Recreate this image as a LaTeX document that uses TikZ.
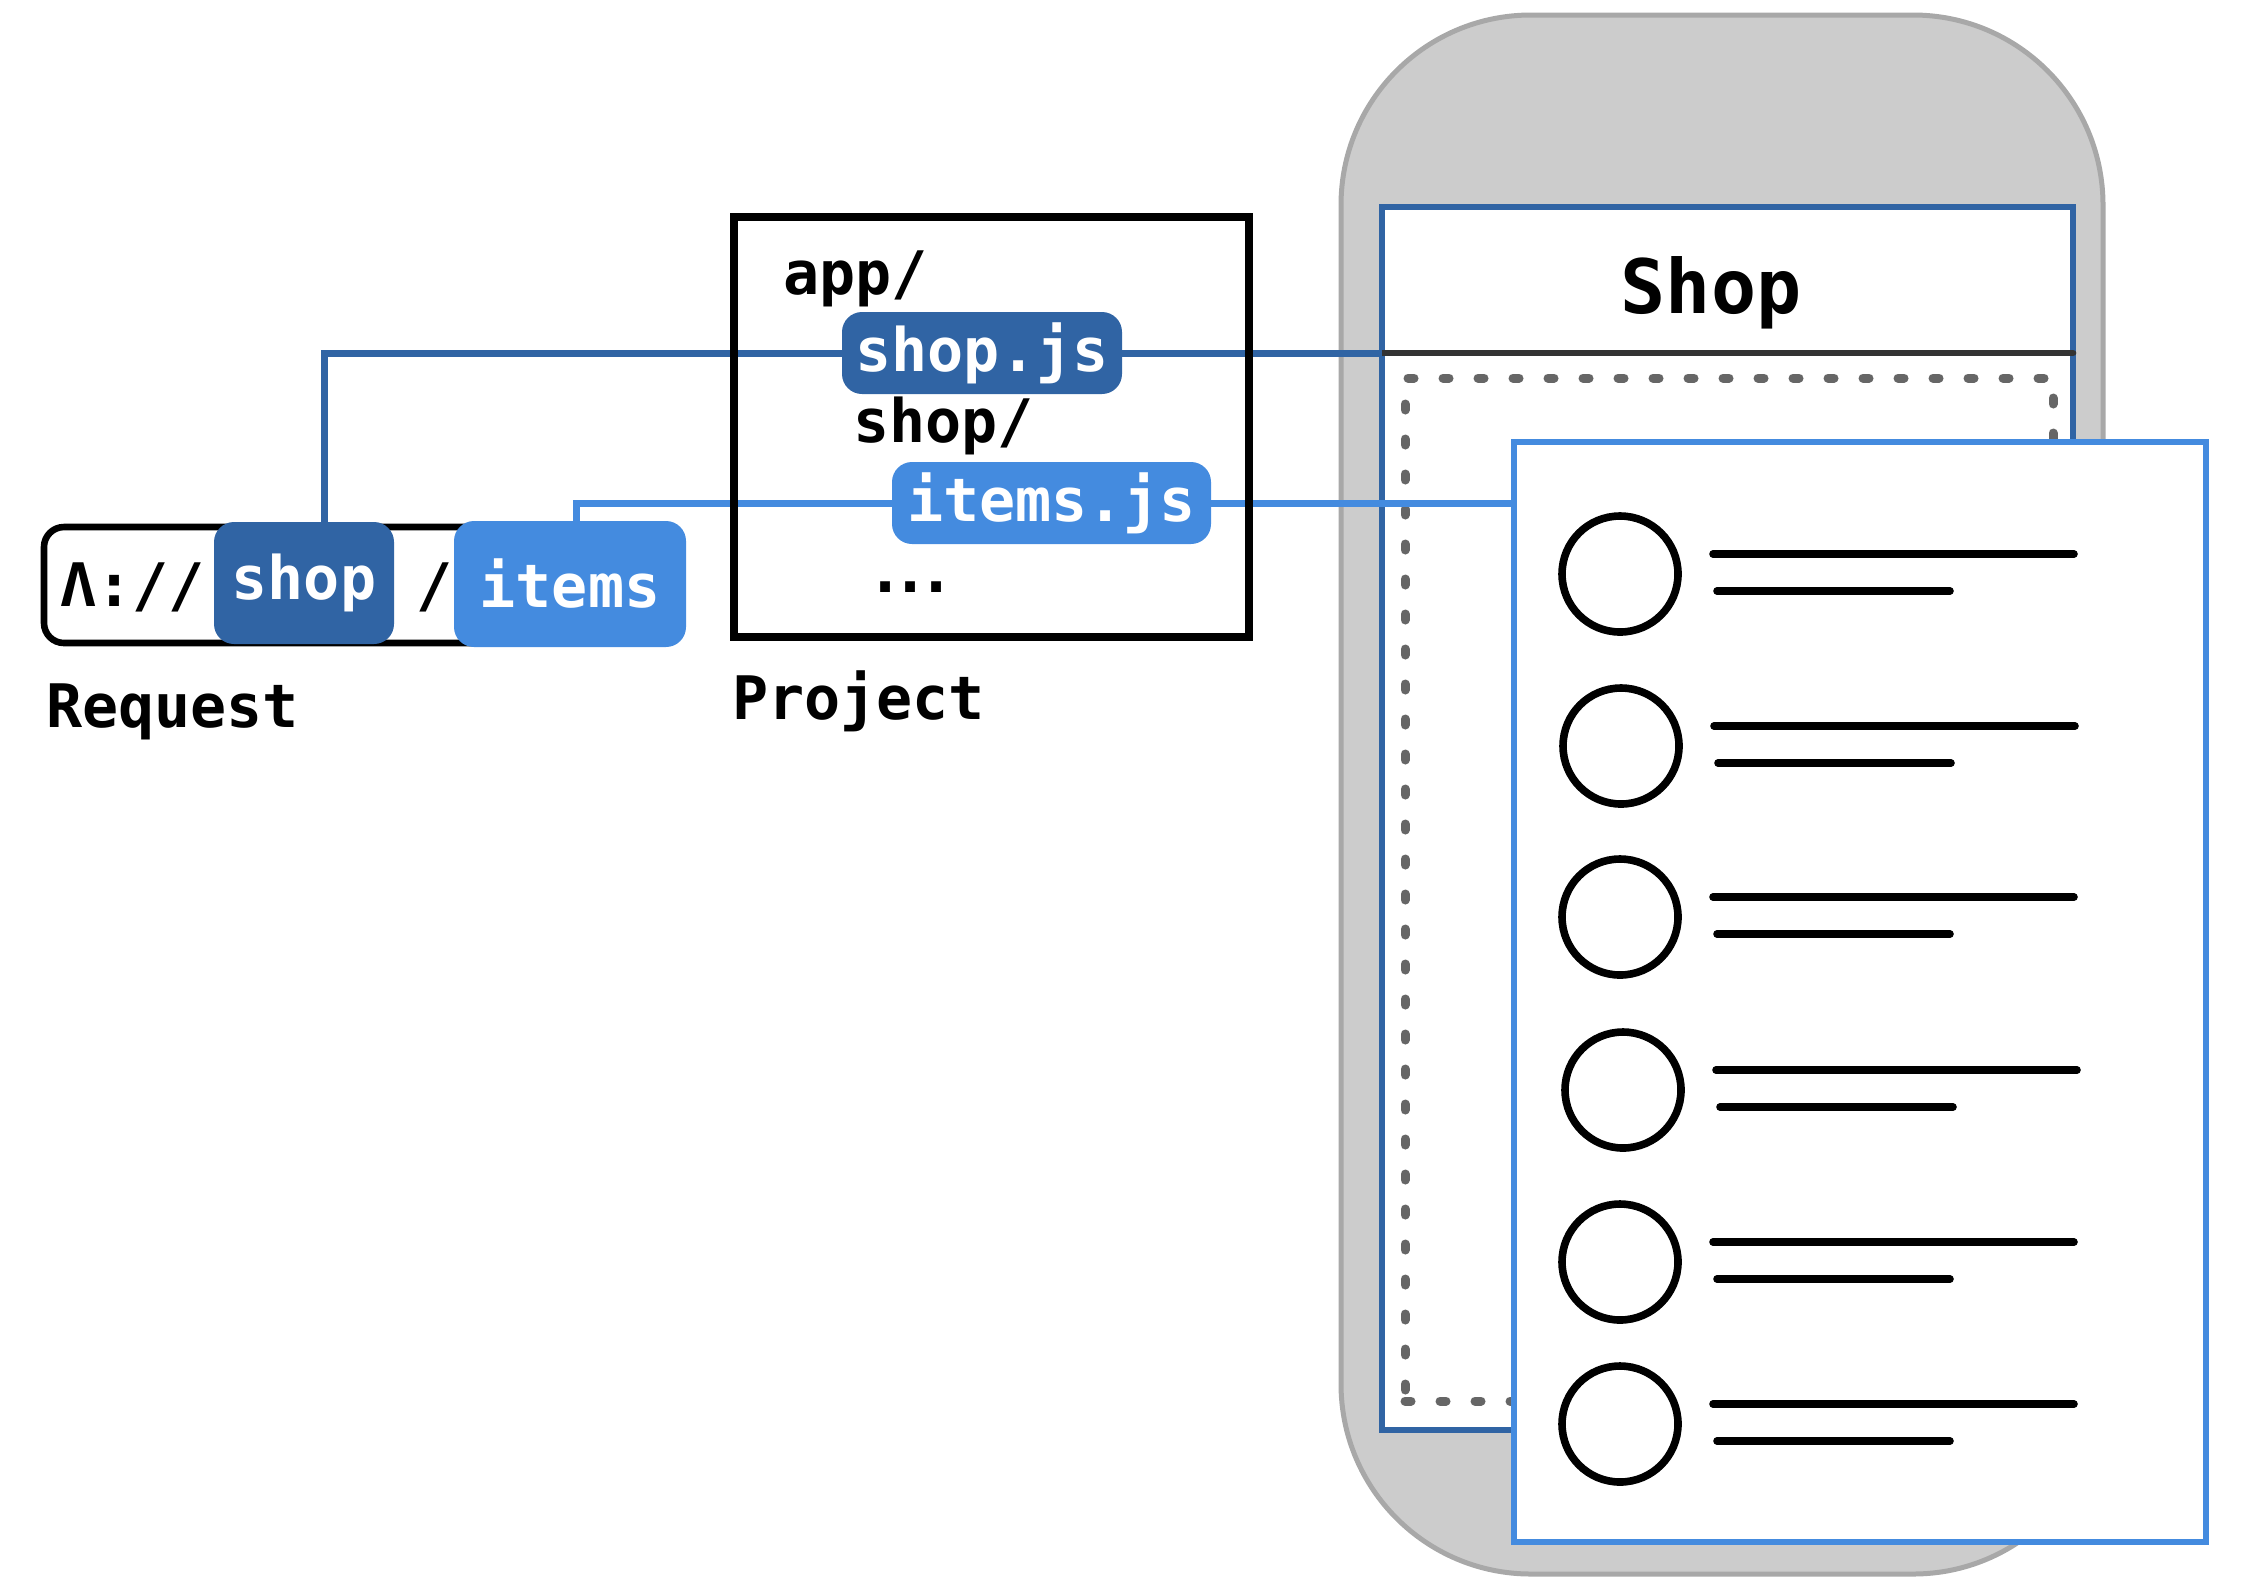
\documentclass[tikz,border=0pt]{standalone}
\usepackage{fontspec}
\newfontfamily\monofont{DejaVu Sans Mono}
\definecolor{dblue}{HTML}{3064A4}
\definecolor{lblue}{HTML}{448BDF}
\definecolor{phonegray}{HTML}{CCCCCC}
\definecolor{phoneedge}{HTML}{A8A8A8}
\definecolor{dotgray}{HTML}{666666}
\definecolor{divgray}{HTML}{333333}
\pgfdeclarelayer{back}
\pgfdeclarelayer{mid}
\pgfsetlayers{back,mid,main}
\begin{document}
\begin{tikzpicture}[x=0.5pt,y=-0.5pt,
  box/.style={inner sep=0pt, outer sep=0pt},
  pill/.style={box, rounded corners=10pt, text=white, font=\monofont\bfseries\fontsize{30pt}{36pt}\selectfont},
  darkpill/.style={pill, fill=dblue},
  lightpill/.style={pill, fill=lblue},
  lbl/.style={inner sep=0pt, outer sep=0pt, font=\monofont\bfseries\fontsize{30pt}{36pt}\selectfont},
  conn/.style={line width=3.5pt},
  itemline/.style={line width=3.8pt, line cap=round},
  avatar/.style={draw, circle, line width=3.8pt, minimum size=58pt, inner sep=0pt}
]
\useasboundingbox (0,0) rectangle (2246,1592);

% ---- request ----
\node[box, draw, line width=3.3pt, fill=white, rounded corners=10pt,
      minimum width=278pt, minimum height=58pt] (reqbox) at (322,585) {};
\node[lbl, anchor=base west] (proto) at (60,606) {Λ://};
\node[lbl, anchor=base west] (slash) at (416,606) {/};
\node[darkpill, minimum width=90pt, minimum height=61pt] (shop) at (304,583) {shop};
\node[lightpill, minimum width=116pt, minimum height=63pt] (items) at (570,584) {items};
\node[lbl, anchor=base west] (reqlabel) at (46,727) {Request};

% ---- project ----
\node[box, draw, line width=3.8pt, minimum width=257.5pt, minimum height=210pt] (project) at (991.5,427) {};
\node[lbl, anchor=base west] (app) at (783,294) {app/};
\node[darkpill, minimum width=140pt, minimum height=41pt] (shopjs) at (982,353) {shop.js};
\node[lbl, anchor=base west] (shopdir) at (853,442) {shop/};
\node[lightpill, minimum width=159.5pt, minimum height=41pt] (itemsjs) at (1051.5,503) {items.js};
\node[lbl, anchor=base] (more) at (911,592) {.\kern-5.5pt.\kern-5.5pt.};
\node[lbl, anchor=base west] (projlabel) at (732,719) {Project};

% ---- items card ----
\node[box, draw=lblue, fill=white, line width=3.3pt, minimum width=346pt, minimum height=550pt] (card) at (1860,992) {};
\foreach \i/\cx/\cy in {1/1620/574, 2/1621/746, 3/1620/917, 4/1623/1090, 5/1620/1262, 6/1620/1424} {
  \node[avatar] (c\i) at (\cx,\cy) {};
  \draw[itemline] (\cx+93,\cy-20) -- (\cx+454,\cy-20);
  \draw[itemline] (\cx+97,\cy+17) -- (\cx+330,\cy+17);
}

% ---- phone ----
\begin{pgfonlayer}{back}
\node[box, draw=phoneedge, fill=phonegray, line width=2.5pt, rounded corners=95pt,
      minimum width=381pt, minimum height=779.5pt] (phone) at (1722,794.5) {};
\node[box, draw=dblue, fill=white, line width=3.3pt,
      minimum width=345.5pt, minimum height=611.5pt] (screen) at (1727.5,818.5) {};
\node[lbl, anchor=base, font=\monofont\bfseries\fontsize{37.5pt}{44pt}\selectfont] (title) at (1711,313) {Shop};
\node[box, draw=dotgray, line width=4.5pt, line cap=round, dash pattern=on 3pt off 14.5pt,
      minimum width=324pt, minimum height=511.5pt] (dots) at (1729,889.5) {};
\draw[divgray, line width=3.3pt, line cap=round] (shopjs.center -| screen.west) -- (shopjs.center -| screen.east);
\end{pgfonlayer}

% ---- connectors ----
\begin{pgfonlayer}{mid}
\draw[conn, dblue] ([xshift=10pt]shop.north) |- (shopjs.center -| screen.west);
\draw[conn, lblue] ([xshift=3pt]items.north) |- (itemsjs.center -| card.west);
\end{pgfonlayer}
\end{tikzpicture}
\end{document}
